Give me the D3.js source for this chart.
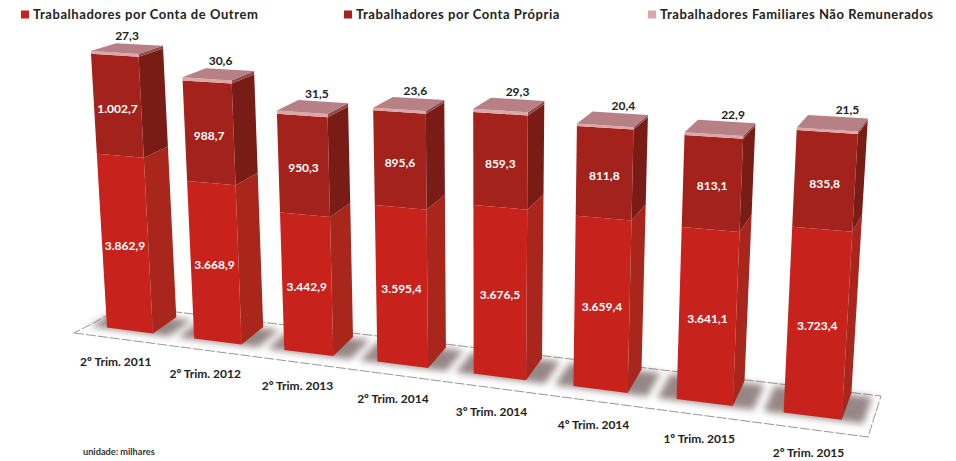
<!DOCTYPE html>
<html><head><meta charset="utf-8">
<script src="https://cdn.jsdelivr.net/npm/d3@7"></script>
<style>html,body{margin:0;background:#fff}svg{display:block}text{font-family:Lato,sans-serif}</style>
</head><body><svg id="c" width="956" height="461"></svg>
<script>
const categories=["2º Trim. 2011","2º Trim. 2012","2º Trim. 2013","2º Trim. 2014","3º Trim. 2014","4º Trim. 2014","1º Trim. 2015","2º Trim. 2015"];
const contaOutrem=[3862.9,3668.9,3442.9,3595.4,3676.5,3659.4,3641.1,3723.4];
const contaPropria=[1002.7,988.7,950.3,895.6,859.3,811.8,813.1,835.8];
const familiares=[27.3,30.6,31.5,23.6,29.3,20.4,22.9,21.5];
const seriesNames=["Trabalhadores por Conta de Outrem","Trabalhadores por Conta Própria","Trabalhadores Familiares Não Remunerados"];
const labelOutrem=["3.862,9","3.668,9","3.442,9","3.595,4","3.676,5","3.659,4","3.641,1","3.723,4"];
const labelPropria=["1.002,7","988,7","950,3","895,6","859,3","811,8","813,1","835,8"];
const labelFam=["27,3","30,6","31,5","23,6","29,3","20,4","22,9","21,5"];

const svg=d3.select("#c");
const defs=svg.append("defs");
defs.append("filter").attr("id","sh").attr("x","-50%").attr("y","-80%").attr("width","200%").attr("height","260%")
  .append("feGaussianBlur").attr("stdDeviation",3.5);
defs.append("filter").attr("id","soft").append("feGaussianBlur").attr("stdDeviation",0.45);

// camera: perspective along the row, depth vectors that rotate across it and flatten with height
const FL=[74,323.5],FR=[868,423],vL=[25,-15],vR=[9,-27],V=[486,6800],persp=-0.13,heightPersp=-0.16,horizon=560;
const floorQuad=[[74,333],[868,437],[881,396],[126,306]];
const lerp=(p,q,s)=>[p[0]+(q[0]-p[0])*s,p[1]+(q[1]-p[1])*s];
function project(u,w,px){
  const s=u*(1+persp)/(1+persp*u);
  const f=lerp(FL,FR,s), v=lerp(vL,vR,s);
  const k=px/(1+heightPersp*u);
  const gx=f[0]+w*v[0], gy=f[1]+w*v[1]*(1-k/horizon);
  return [gx+(gx-V[0])*k/(V[1]-gy), gy-k];
}
const uBand=d3.scaleBand().domain(categories).range([0.0475,0.9712]).paddingInner(0.47);
const base=2120;
const hScale=d3.scaleLinear().domain([base,6000]).range([0,384]);

const rows=categories.map((c,i)=>({c,i,outrem:contaOutrem[i],propria:contaPropria[i],fam:familiares[i]}));
const keys=["outrem","propria","fam"];
const stacked=d3.stack().keys(keys)(rows);
const colors={outrem:["#c8211a","#a8261a"],propria:["#a4221f","#7a1c18"],fam:["#dba7a7","#8f4a4c"]};
const poly=pts=>pts.map(p=>p.map(v=>v.toFixed(1)).join(",")).join(" ");
const uL=r=>uBand(r.c),uR=r=>uBand(r.c)+uBand.bandwidth(),uC=r=>uBand(r.c)+uBand.bandwidth()/2;

// floor
svg.append("polygon").attr("points",poly(floorQuad)).attr("fill","#fff").attr("stroke","#8a8a8a").attr("stroke-width",0.9).attr("stroke-dasharray","10 2");
// shadows
svg.append("g").selectAll("polygon").data(rows).join("polygon")
 .attr("filter","url(#sh)").attr("fill","#857272").attr("opacity",0.85)
 .attr("points",r=>{const mL=0.022,mR=0.024;return poly([project(uL(r)-mL,-0.05,0),project(uR(r)+mR,-0.05,0),project(uR(r)+mR,0.95,0),project(uL(r)-mL,0.95,0)])});

const bars=svg.append("g").attr("filter","url(#soft)");
stacked.forEach(s=>{
  const k=s.key;
  const seg=s.map(pt=>({r:pt.data,lo:k==="outrem"?base:pt[0],hi:pt[1]}));
  bars.append("g").selectAll("polygon").data(seg).join("polygon").attr("fill",colors[k][1])
   .attr("points",q=>{const a=hScale(q.lo),b=hScale(q.hi),R=uR(q.r);return poly([project(R,0,a),project(R,1,a),project(R,1,b),project(R,0,b)])});
  bars.append("g").selectAll("polygon").data(seg).join("polygon").attr("fill",colors[k][0])
   .attr("points",q=>{const a=hScale(q.lo),b=hScale(q.hi),R=uR(q.r),L=uL(q.r);return poly([project(L,0,a),project(R,0,a),project(R,0,b),project(L,0,b)])});
});
bars.append("g").selectAll("polygon").data(stacked[2]).join("polygon").attr("fill","#b78085")
 .attr("points",pt=>{const r=pt.data,t=hScale(pt[1]);return poly([project(uL(r),0,t),project(uR(r),0,t),project(uR(r),1,t),project(uL(r),1,t)])});

// labels
const lab=svg.append("g").attr("text-anchor","middle").attr("font-weight",700).attr("font-size",12);
lab.append("g").selectAll("text").data(stacked[0]).join("text").attr("fill","#fff")
 .attr("transform",pt=>{const p=project(uC(pt.data),0,hScale((base+pt[1])/2));return `translate(${p[0]},${p[1]+7})`}).text(pt=>labelOutrem[pt.data.i]);
lab.append("g").selectAll("text").data(stacked[1]).join("text").attr("fill","#fff")
 .attr("transform",pt=>{const p=project(uC(pt.data),0,hScale((pt[0]+pt[1])/2));return `translate(${p[0]},${p[1]+7})`}).text(pt=>labelPropria[pt.data.i]);
const nudge=d3.scaleLinear().domain([0,7]).range([0,15]);
lab.append("g").selectAll("text").data(stacked[2]).join("text").attr("fill","#222")
 .attr("transform",pt=>{const p=project(uC(pt.data),0.5,hScale(pt[1]));return `translate(${p[0]+nudge(pt.data.i)},${p[1]-9})`}).text(pt=>labelFam[pt.data.i]);
const tickDx=d3.scaleLinear().domain([0,7]).range([-14,-4]);
const tickDy=d3.scaleLinear().domain([0,7]).range([36,41]);
lab.append("g").selectAll("text").data(rows).join("text").attr("fill","#222")
 .attr("transform",r=>{const p=project(uC(r),0,0);return `translate(${p[0]+tickDx(r.i)},${p[1]+tickDy(r.i)})`}).text(r=>r.c);

svg.append("text").attr("x",83).attr("y",455).attr("font-size",9.2).attr("font-weight",700).attr("fill","#333").text("unidade: milhares");

// legend
const legendX=d3.scaleOrdinal().domain(seriesNames).range([21,344,648]);
const legendColor=d3.scaleOrdinal().domain(seriesNames).range(["#c8211a","#a4221f","#dba7a7"]);
const leg=svg.append("g").selectAll("g").data(seriesNames).join("g").attr("transform",n=>`translate(${legendX(n)},0)`);
leg.append("rect").attr("y",10.5).attr("width",8).attr("height",8).attr("fill",n=>legendColor(n));
leg.append("text").attr("x",12).attr("y",19).attr("font-size",13).attr("font-weight",700).attr("letter-spacing",0.55).attr("fill","#222").text(n=>n);
</script></body></html>
